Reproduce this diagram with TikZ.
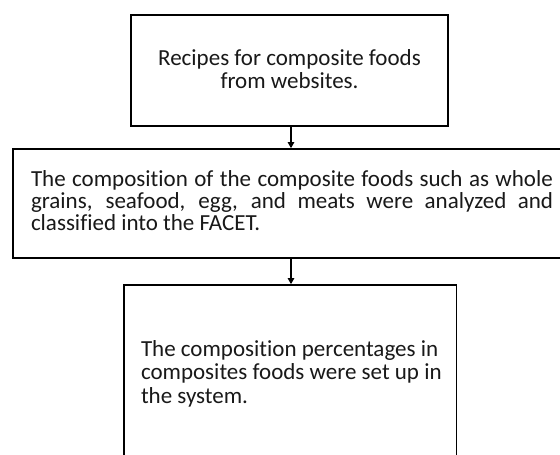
\documentclass[tikz,border=0pt]{standalone}
\usepackage{fontspec}
\setmainfont{Carlito}[RawFeature={-liga;-clig}]
\usetikzlibrary{arrows.meta}
\begin{document}
\begin{tikzpicture}[x=1pt,y=1pt,
  stepbox/.style={draw=black,line width=1.7pt,rectangle,inner sep=0pt,fill=white},
  txt/.style={inner sep=0pt,outer sep=0pt,text=black!90},
  arr/.style={draw=black,line width=1.1pt,-{Triangle[width=6.5pt,length=6pt]}}]
\useasboundingbox (0,0) rectangle (560,-455);
\clip (0,0) rectangle (560,-455);
\node[stepbox,minimum width=317pt,minimum height=111pt] (box1) at (289.5,-70.5) {};
\node[stepbox,minimum width=565pt,minimum height=109pt] (box2) at (295.2,-203.5) {};
\node[stepbox,minimum width=332.5pt,minimum height=190pt] (box3) at (290.25,-380) {};
\coordinate (ax) at (291,0);
\draw[arr] (box1.south -| ax) -- (box2.north -| ax);
\draw[arr] (box2.south -| ax) -- (box3.north -| ax);
\node[txt,anchor=base] (t1) at (289.5,-65.7) {\parbox[t]{310pt}{\fontsize{23}{22.6}\selectfont\centering Recipes for composite foods\\ from websites.}};
\node[txt,anchor=base west] (t2) at (31,-186) {\parbox[t]{522pt}{\fontsize{23}{22}\selectfont
\makebox[522pt][s]{The composition of the composite foods such as whole}\\
\makebox[522pt][s]{grains, seafood, egg, and meats were analyzed and}\\
classified into the FACET.}};
\node[txt,anchor=base west] (t3) at (141,-356) {\parbox[t]{320pt}{\fontsize{23}{23.5}\selectfont\raggedright The composition percentages in\\ composites foods were set up in\\ the system.}};
\end{tikzpicture}
\end{document}
